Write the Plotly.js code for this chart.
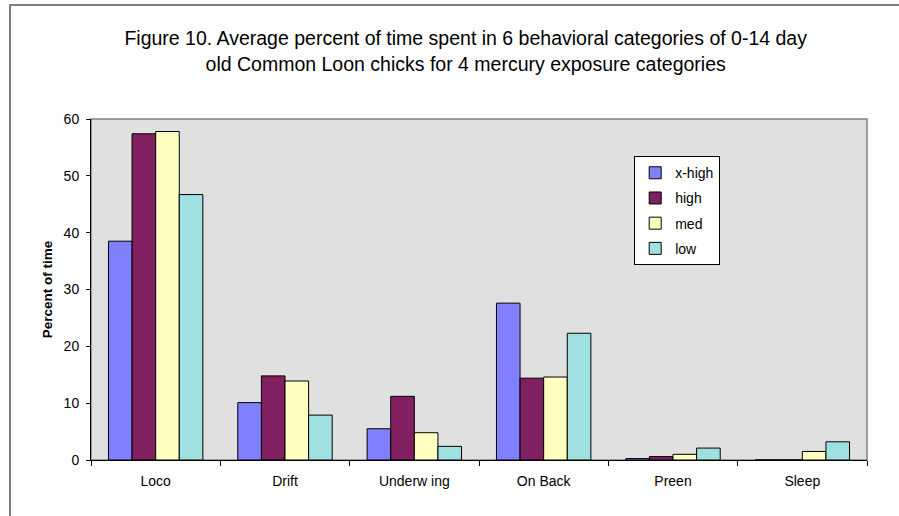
<!DOCTYPE html>
<html>
<head>
<meta charset="utf-8">
<script src="https://cdn.plot.ly/plotly-3.0.1.min.js"></script>
<style>
  html, body { margin: 0; padding: 0; background: #fff; }
  #wrap { position: relative; width: 899px; height: 516px; overflow: hidden; }
  #chart { position: absolute; left: 0; top: 0; width: 899px; height: 516px; }
  #frame { position: absolute; left: 9px; top: 4px; width: 1000px; height: 1000px;
           border-left: 2px solid #808080; border-top: 2px solid #808080; pointer-events: none; }
</style>
</head>
<body>
<div id="wrap">
  <div id="chart"></div>
  <div id="frame"></div>
</div>
<script>
const categories = ["Loco", "Drift", "Underw ing", "On Back", "Preen", "Sleep"];
const seriesNames = ["x-high", "high", "med", "low"];
const xHigh = [38.5, 10.1, 5.5, 27.6, 0.25, 0];
const high  = [57.4, 14.8, 11.2, 14.4, 0.6, 0];
const med   = [57.8, 13.9, 4.8, 14.6, 1.0, 1.5];
const low   = [46.7, 7.9, 2.4, 22.3, 2.1, 3.2];
const yTicks = [0, 10, 20, 30, 40, 50, 60];

const colors = ["#8080FF", "#802060", "#FFFFC0", "#A0E0E0"];
const values = [xHigh, high, med, low];

const FONT = "Liberation Sans, Arial, sans-serif";

const traces = seriesNames.map((name, i) => ({
  type: "bar",
  name: name,
  x: categories,
  y: values[i],
  legendgroup: name,
  marker: { color: colors[i], line: { color: "#000000", width: 1 } },
  hoverinfo: "x+y+name"
}));

const layout = {
  width: 899,
  height: 516,
  margin: { l: 91, r: 32, t: 119, b: 55.5 },
  paper_bgcolor: "#FFFFFF",
  plot_bgcolor: "#E0E0E0",
  font: { family: FONT, color: "#000000", size: 14 },
  title: {
    text: "Figure 10. Average percent of time spent in 6 behavioral categories of 0-14 day<br>old Common Loon chicks for 4 mercury exposure categories",
    font: { family: FONT, size: 19.5, color: "#000000" },
    x: 0.518, xanchor: "center", xref: "container",
    y: 0.912, yanchor: "top",
    yref: "container"
  },
  barmode: "group",
  bargap: 0.27,
  bargroupgap: 0,
  showlegend: true,
  legend: {
    x: 0.70, xanchor: "left",
    y: 0.891, yanchor: "top",
    bgcolor: "#FFFFFF",
    bordercolor: "#000000",
    borderwidth: 1,
    font: { family: FONT, size: 14, color: "#000000" },
    traceorder: "grouped",
    tracegroupgap: 4,
    itemwidth: 30
  },
  xaxis: {
    type: "category",
    tickson: "boundaries",
    ticks: "outside",
    ticklen: 5,
    tickcolor: "#000000",
    showline: true,
    linecolor: "#000000",
    linewidth: 1,
    showgrid: false,
    zeroline: false,
    ticklabelstandoff: 8,
    tickfont: { family: FONT, size: 14, color: "#000000" }
  },
  yaxis: {
    range: [0, 60],
    tickvals: yTicks,
    ticktext: yTicks.map(String),
    ticks: "outside",
    ticklen: 4,
    tickcolor: "#000000",
    showline: true,
    linecolor: "#000000",
    linewidth: 1,
    showgrid: false,
    zeroline: false,
    ticklabelstandoff: 4,
    tickfont: { family: FONT, size: 14, color: "#000000" },
    title: {
      text: "<b>Percent of time</b>",
      font: { family: FONT, size: 13.5, color: "#000000" },
      standoff: 7
    }
  },
  shapes: [{
    type: "rect", xref: "paper", yref: "paper",
    x0: 0, x1: 1, y0: 0, y1: 1,
    line: { color: "#808080", width: 1.5 },
    fillcolor: "rgba(0,0,0,0)",
    layer: "below"
  }]
};

Plotly.newPlot("chart", traces, layout, { displayModeBar: false, staticPlot: true });
</script>
</body>
</html>
